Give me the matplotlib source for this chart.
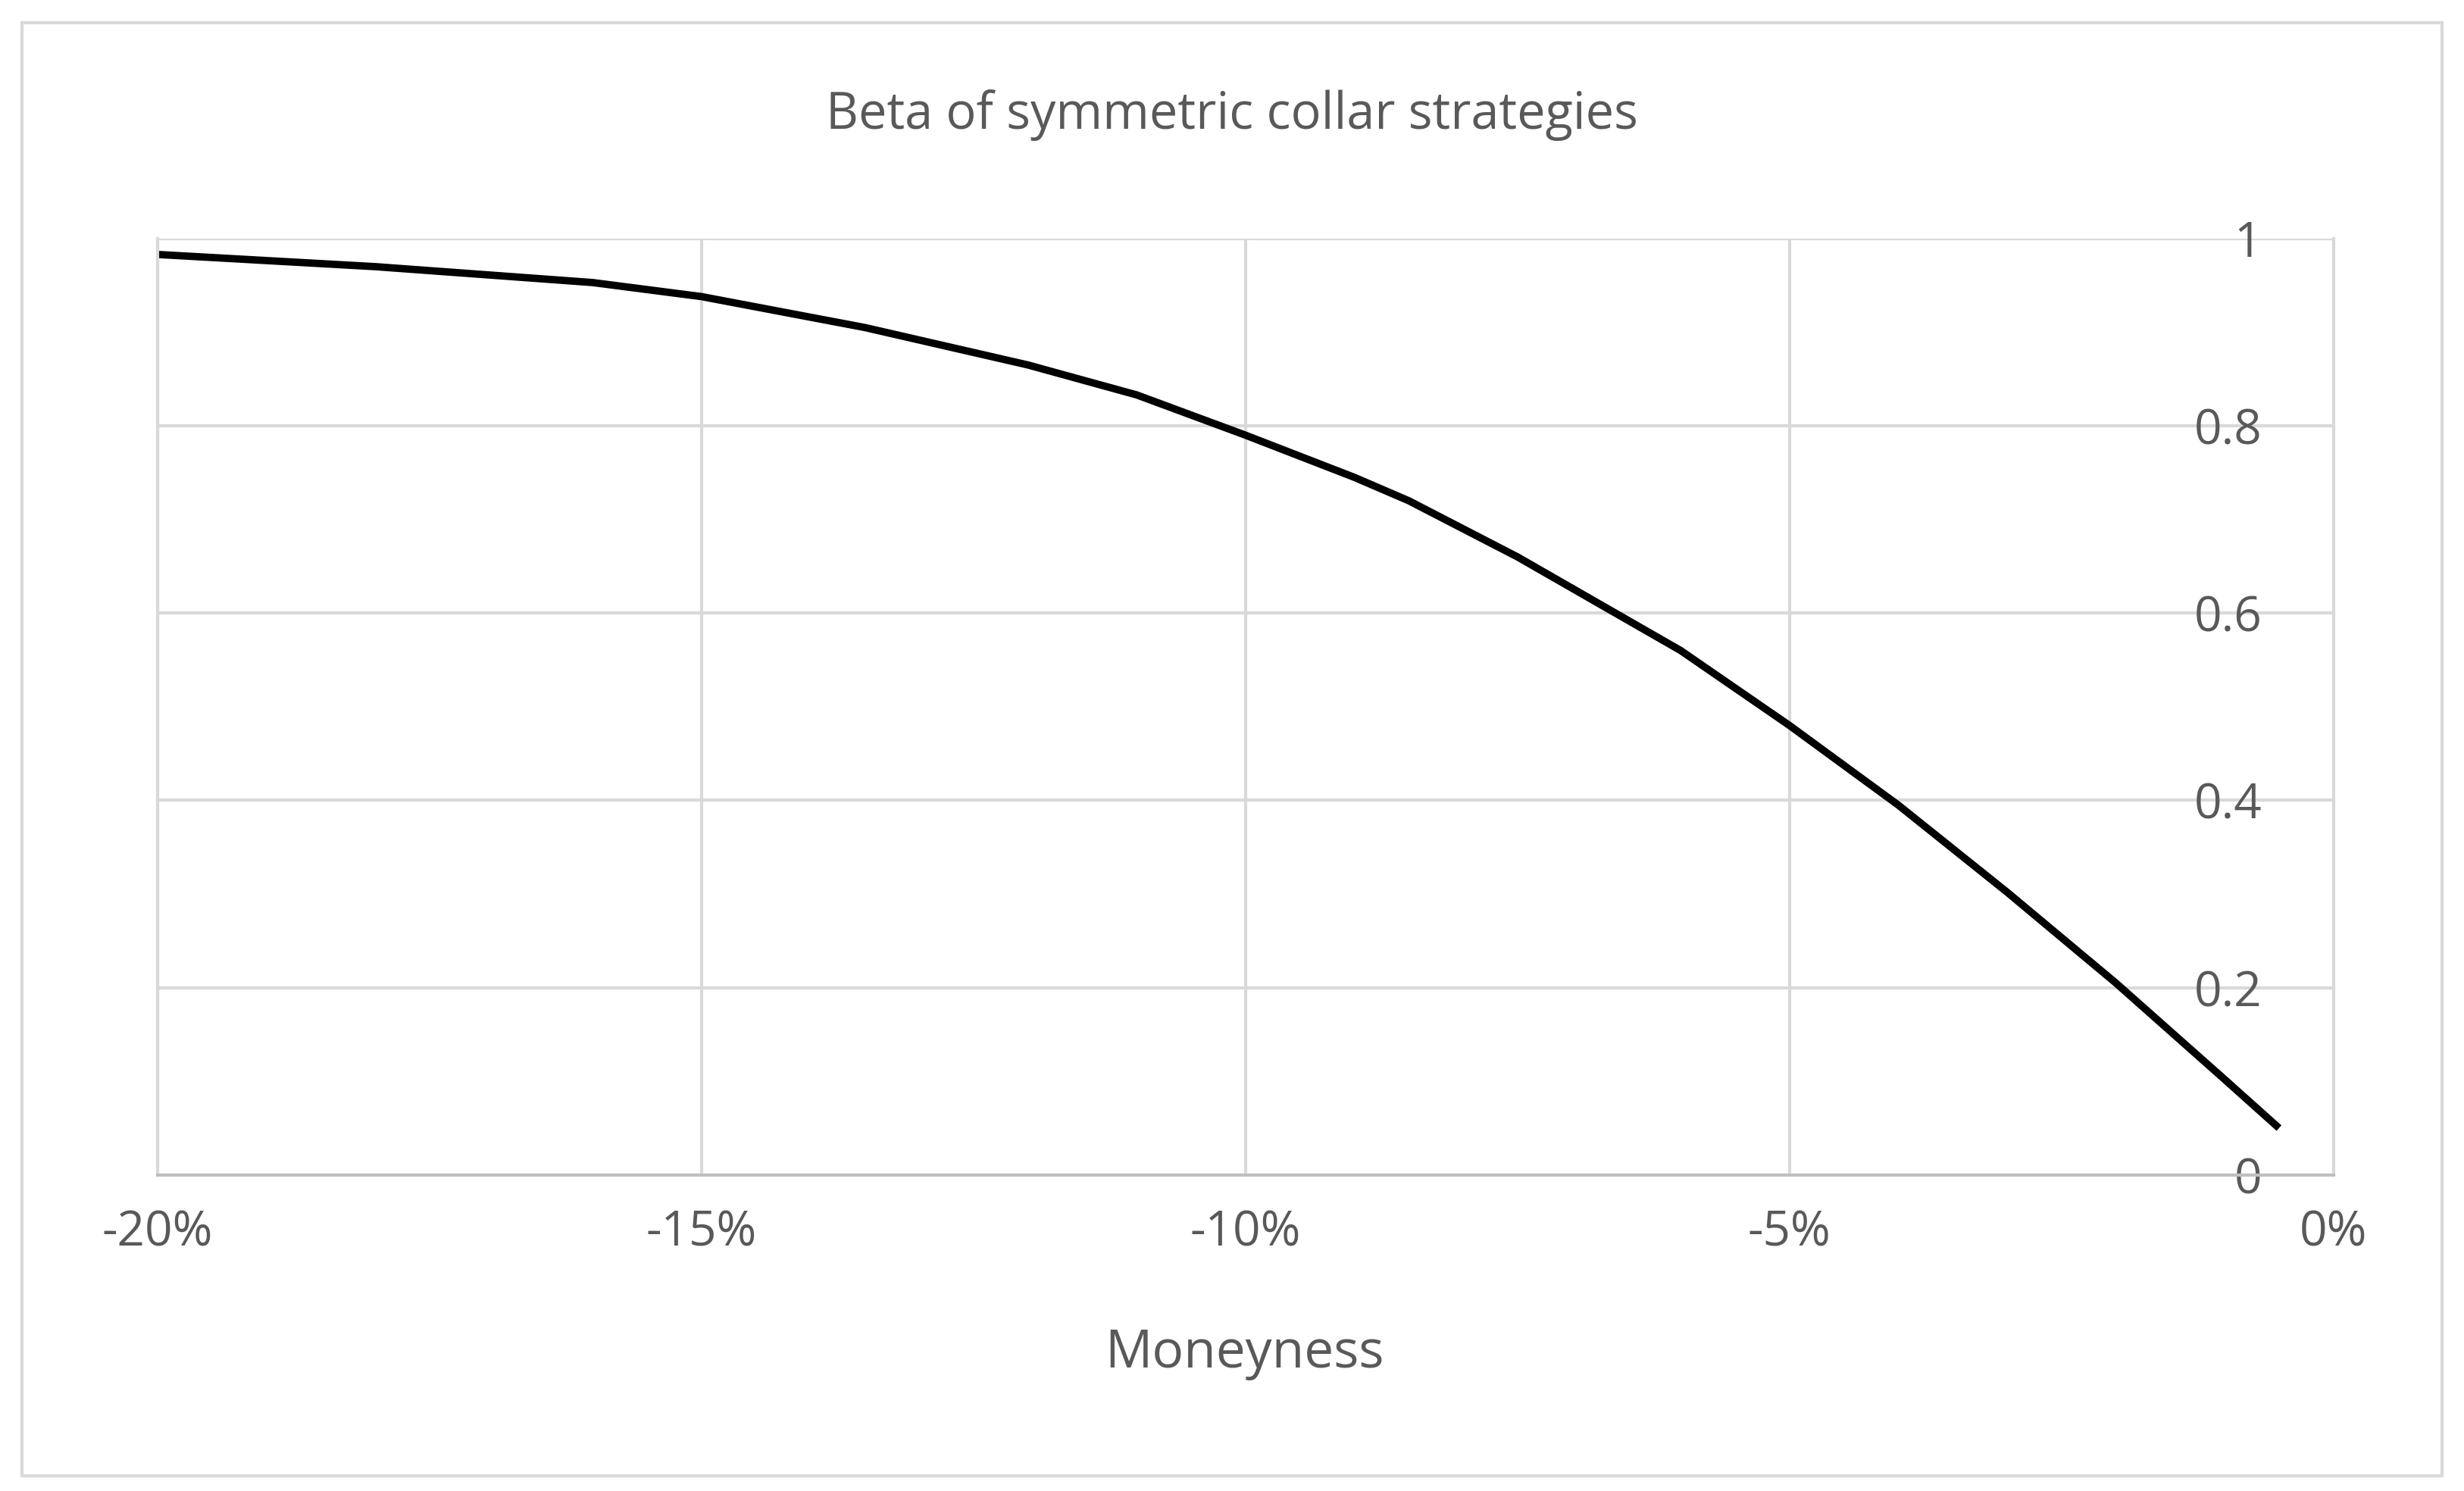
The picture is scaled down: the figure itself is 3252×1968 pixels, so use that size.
import matplotlib
matplotlib.use("Agg")
import matplotlib.pyplot as plt
from matplotlib.ticker import FuncFormatter
from matplotlib.patches import Rectangle

moneyness = [-0.20, -0.18, -0.16, -0.15, -0.135, -0.12, -0.11, -0.10, -0.09, -0.085,
             -0.075, -0.06, -0.05, -0.04, -0.03, -0.02, -0.01, -0.005]
beta = [0.983, 0.970, 0.953, 0.938, 0.905, 0.865, 0.833, 0.790, 0.745, 0.720,
        0.660, 0.560, 0.480, 0.395, 0.302, 0.205, 0.102, 0.050]
xticks = [-0.20, -0.15, -0.10, -0.05, 0.0]
yticks = [0, 0.2, 0.4, 0.6, 0.8, 1.0]

plt.rcParams['font.family'] = ['Open Sans', 'DejaVu Sans']
grey = '#595959'
fig = plt.figure(figsize=(16.26, 9.84), dpi=200)
fig.patches.append(Rectangle((0.009, 0.01), 0.982, 0.975, transform=fig.transFigure,
                             fill=False, edgecolor='#d9d9d9', linewidth=1.5))
ax = fig.add_axes([0.064, 0.212, 0.883, 0.628])
ax.plot(moneyness, beta, color='black', linewidth=3.5, solid_capstyle='butt', solid_joinstyle='round')
ax.set_xlim(-0.20, 0.0)
ax.set_ylim(0, 1)
ax.set_xticks(xticks)
ax.set_yticks(yticks)
ax.xaxis.set_major_formatter(FuncFormatter(lambda v, p: f"{v*100:.0f}%"))
ax.yaxis.set_major_formatter(FuncFormatter(lambda v, p: f"{v:g}"))
ax.yaxis.tick_right()
ax.grid(True, color='#d9d9d9', linewidth=1.5)
ax.spines['top'].set_visible(False)
ax.spines['left'].set_color('#d9d9d9'); ax.spines['right'].set_color('#d9d9d9')
ax.spines['bottom'].set_color('#bfbfbf')
for s in ['left', 'right', 'bottom']:
    ax.spines[s].set_linewidth(1.5)
ax.tick_params(axis='both', length=0, labelsize=23, labelcolor=grey)
ax.tick_params(axis='x', pad=16)
ax.tick_params(axis='y', pad=-34)
for t in ax.get_yticklabels():
    t.set_horizontalalignment('right')
ax.set_axisbelow(True)
fig.text(0.5, 0.923, 'Beta of symmetric collar strategies', ha='center', va='center', fontsize=24, color=grey)
fig.text(0.505, 0.092, 'Moneyness', ha='center', va='center', fontsize=25, color=grey)
fig.savefig('out.png', dpi=200)
